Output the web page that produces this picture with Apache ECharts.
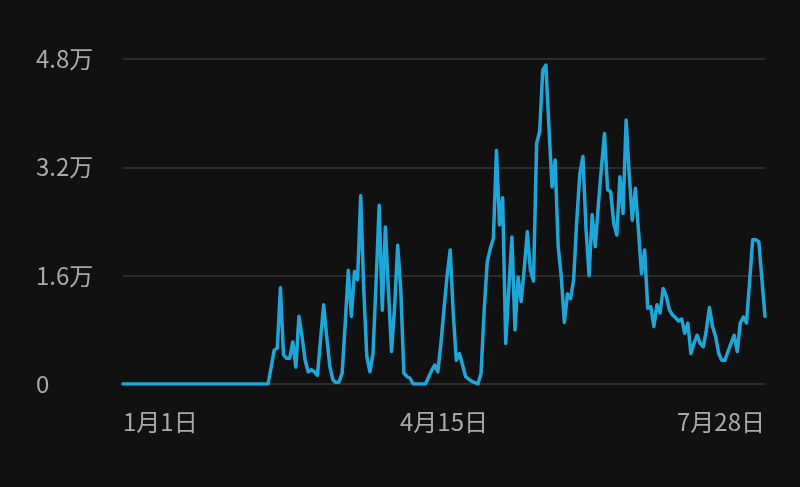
<!DOCTYPE html>
<html>
<head>
<meta charset="utf-8">
<script src="https://cdn.jsdelivr.net/npm/echarts@6/dist/echarts.min.js"></script>
<style>
html,body{margin:0;padding:0;background:#111111;}
#c{width:800px;height:487px;}
</style>
</head>
<body>
<div id="c"></div>
<script>
// Daily categories: 2023-01-01 .. 2023-07-28 (209 days)
const startDate = new Date(2023, 0, 1);
const dayCount = 209;
const categories = [];
for (let i = 0; i < dayCount; i++) {
  const d = new Date(startDate.getTime() + i * 86400000);
  categories.push((d.getMonth() + 1) + '月' + d.getDate() + '日');
}

const yTicks = [0, 16000, 32000, 48000];

const values = [
  0,0,0,0,0,0,0,0,0,0, 0,0,0,0,0,0,0,0,0,0,
  0,0,0,0,0,0,0,0,0,0, 0,0,0,0,0,0,0,0,0,0,
  0,0,0,0,0,0,0,0,
  2500,5000,5300,14200,4300,3800,3800,6200,2500,10000,
  7000,3500,1800,2100,1800,1300,6500,11700,7000,2600,
  600,200,300,1600,9000,16800,10000,16600,15400,27800,
  14000,4000,1800,4500,15000,26400,10900,23200,13900,4800,
  11400,20500,13900,1600,1100,850,0,0,0,0,
  0,1000,2000,2800,1800,6000,11000,16000,19800,10400,
  3500,4500,2800,1100,700,400,200,0,1600,10700,
  18000,20000,21500,34500,23500,27500,6000,14000,21700,8000,
  15800,12200,17000,22500,16800,15200,35500,37300,46400,47100,
  38000,29100,33100,20300,15800,9100,13300,12600,15400,24000,
  31000,33600,23000,16000,25000,20300,26400,31900,37000,28700,
  28400,23700,22000,30600,25200,39000,31000,24200,28900,22700,
  16300,19800,11200,11400,8500,11700,10500,14100,13000,11000,
  10200,9800,9300,9600,7500,9000,4500,6000,7200,6000,
  5500,8000,11300,8500,7000,4500,3500,3500,4800,6000,
  7200,4800,9000,9900,9000,15000,21300,21300,21000,15500,
  10000
];

const chart = echarts.init(document.getElementById('c'), null, {renderer: 'canvas'});
const labelFont = '"Noto Sans CJK SC", "Noto Sans", sans-serif';
chart.setOption({
  backgroundColor: '#111111',
  animation: false,
  grid: {left: 123, right: 35, top: 59, bottom: 103, containLabel: false},
  xAxis: {
    type: 'category',
    data: categories,
    boundaryGap: false,
    axisLine: {show: false},
    axisTick: {show: false},
    splitLine: {show: false},
    axisLabel: {
      interval: 103,
      color: '#a9a9a9',
      fontSize: 24,
      fontFamily: labelFont,
      margin: 26,
      alignMinLabel: 'left',
      alignMaxLabel: 'right'
    }
  },
  yAxis: {
    type: 'value',
    min: yTicks[0],
    max: yTicks[yTicks.length - 1],
    interval: yTicks[1] - yTicks[0],
    axisLine: {show: false},
    axisTick: {show: false},
    splitLine: {show: true, lineStyle: {color: '#363636', width: 1.5}},
    axisLabel: {
      color: '#a9a9a9',
      fontSize: 24,
      fontFamily: labelFont,
      align: 'left',
      margin: 87,
      formatter: function (v) { return v === 0 ? '0' : (v / 10000) + '万'; }
    }
  },
  series: [{
    type: 'line',
    data: values,
    showSymbol: false,
    smooth: false,
    lineStyle: {color: '#1fa6d9', width: 3.5, join: 'round', cap: 'round'},
    itemStyle: {color: '#1fa6d9'}
  }]
});
</script>
</body>
</html>
